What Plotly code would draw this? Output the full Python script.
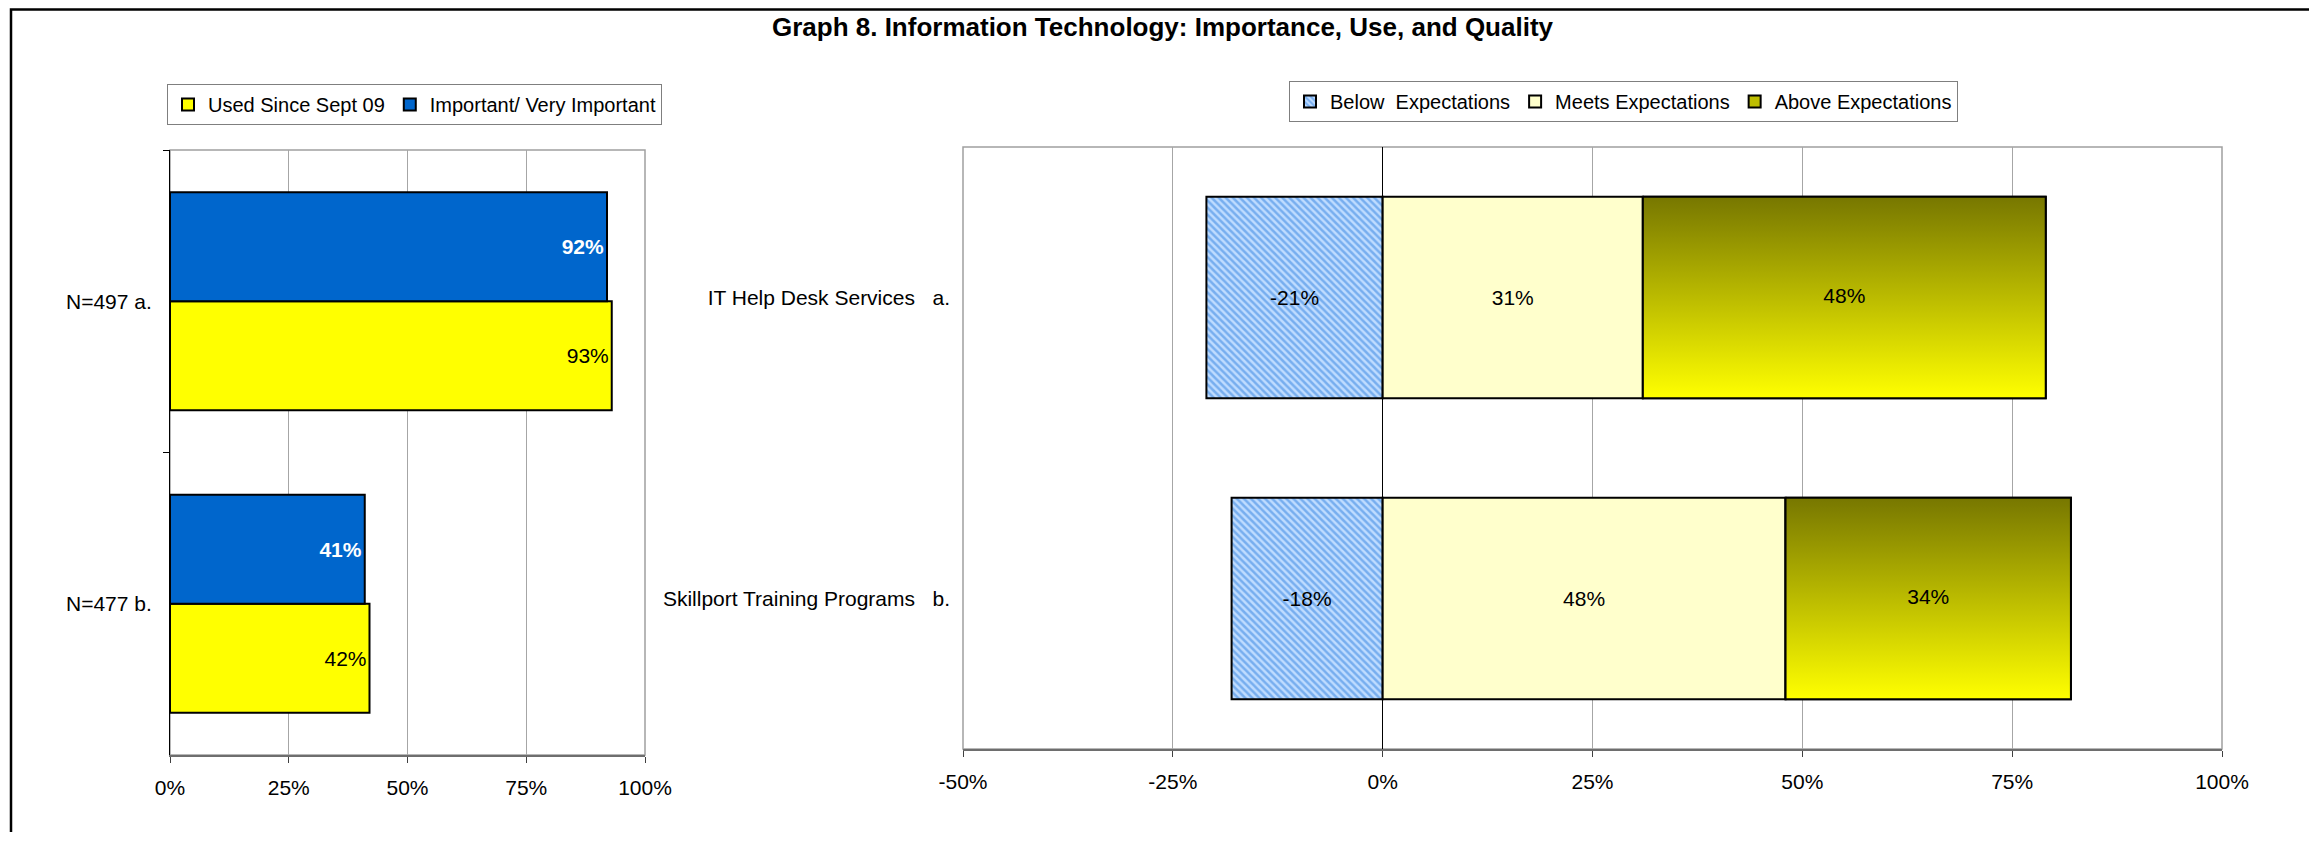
import plotly.graph_objects as go

# page body has an 8px margin, so the figure sits 8px in from the window corner
OFF = 8
W, H = 2317 - OFF, 845 - 2 * OFF - 5

# left chart: importance / use
left_cats = ["N=497 a.", "N=477 b."]
used_vals = [93, 42]
important_vals = [92, 41]

# right chart: quality ratings
right_cats = ["IT Help Desk Services\u00a0\u00a0\u00a0a.",
              "Skillport Training Programs\u00a0\u00a0\u00a0b."]
below_vals = [-21, -18]
meets_vals = [31, 48]
above_vals = [48, 34]

left_ticks = [0, 25, 50, 75, 100]
right_ticks = [-50, -25, 0, 25, 50, 75, 100]

FONT = "Liberation Sans, Arial, sans-serif"
GRID = "#A6A6A6"


def px_x(p):
    return (p - OFF) / W


def px_y(p):
    return 1 - (p - OFF) / H


def pct(vals):
    return [f"{v}%" for v in vals]


fig = go.Figure()

# ---- left: grouped bars ----
fig.add_trace(go.Bar(
    y=left_cats, x=used_vals, orientation="h", name="Used Since Sept 09",
    width=0.36, offset=0, marker=dict(color="#FFFF00", line=dict(color="black", width=2)),
    text=pct(used_vals), texttemplate="%{text}", textposition="inside",
    insidetextanchor="end", textfont=dict(color="black", size=21), constraintext="none",
    xaxis="x", yaxis="y", legend="legend", hoverinfo="skip"))
fig.add_trace(go.Bar(
    y=left_cats, x=important_vals, orientation="h", name="Important/ Very Important",
    width=0.36, offset=-0.36, marker=dict(color="#0066CC", line=dict(color="black", width=2)),
    text=pct(important_vals), texttemplate="<b>%{text}</b>", textposition="inside",
    insidetextanchor="end", textfont=dict(color="white", size=21), constraintext="none",
    xaxis="x", yaxis="y", legend="legend", hoverinfo="skip"))

# ---- right: diverging stacked bars ----
ypos = list(range(len(right_cats)))
hw = 0.335
fig.add_trace(go.Bar(
    y=ypos, x=below_vals, base=0, orientation="h", name="Below  Expectations",
    width=2 * hw, marker=dict(color="#99CCFF", line=dict(color="black", width=2),
                              pattern=dict(shape="\\", fgcolor="#2F80E0", bgcolor="#BFDCFF",
                                           size=5, solidity=0.5)),
    text=pct(below_vals), texttemplate="%{text}", textposition="inside",
    insidetextanchor="middle", textfont=dict(color="black", size=21), constraintext="none",
    xaxis="x2", yaxis="y2", legend="legend2", legendrank=1, hoverinfo="skip"))
fig.add_trace(go.Bar(
    y=ypos, x=meets_vals, base=0, orientation="h", name="Meets Expectations",
    width=2 * hw, marker=dict(color="#FFFFCC", line=dict(color="black", width=2)),
    text=pct(meets_vals), texttemplate="%{text}", textposition="inside",
    insidetextanchor="middle", textfont=dict(color="black", size=21), constraintext="none",
    xaxis="x2", yaxis="y2", legend="legend2", legendrank=2, hoverinfo="skip"))
fig.add_trace(go.Bar(
    y=ypos, x=above_vals, base=meets_vals, orientation="h", name="Above Expectations",
    width=2 * hw, marker=dict(color="#BDBD00", line=dict(color="black", width=2)),
    xaxis="x2", yaxis="y2", legend="legend2", legendrank=3, hoverinfo="skip"))

# gradient fill over the "above" segments (scatter layer sits above bars)
for i, (m, a) in enumerate(zip(meets_vals, above_vals)):
    fig.add_trace(go.Scatter(
        x=[m, m + a, m + a, m, m], y=[i - hw, i - hw, i + hw, i + hw, i - hw],
        mode="lines", fill="toself", line=dict(color="black", width=2),
        fillgradient=dict(type="vertical", colorscale=[[0, "#FFFF00"], [1, "#777700"]]),
        xaxis="x2", yaxis="y2", showlegend=False, hoverinfo="skip"))

fig.add_trace(go.Scatter(
    x=[m + a / 2 for m, a in zip(meets_vals, above_vals)], y=ypos,
    text=pct(above_vals), mode="text",
    textfont=dict(color="black", size=21, family=FONT),
    xaxis="x2", yaxis="y2", showlegend=False, hoverinfo="skip"))

# ---- layout ----
L_DOM_X = [px_x(170), px_x(645)]
L_DOM_Y = [px_y(755), px_y(150)]
R_DOM_X = [px_x(963), px_x(2222)]
R_DOM_Y = [px_y(749), px_y(147)]
R_RANGE = [right_ticks[0], right_ticks[-1]]
zero_pos = R_DOM_X[0] + (0 - R_RANGE[0]) / (R_RANGE[1] - R_RANGE[0]) * (R_DOM_X[1] - R_DOM_X[0])

tickfont = dict(size=21, color="black", family=FONT)

fig.update_layout(
    width=W, height=H, barmode="overlay",
    margin=dict(l=0, r=0, t=0, b=0, autoexpand=False),
    paper_bgcolor="white", plot_bgcolor="white",
    font=dict(family=FONT, size=21, color="black"),
    title=dict(text="<b>Graph 8. Information Technology: Importance, Use, and Quality</b>",
               x=0.5, xanchor="center", y=px_y(27), yanchor="middle", automargin=False,
               font=dict(size=26, color="black", family=FONT)),
    xaxis=dict(domain=L_DOM_X, anchor="y", range=[left_ticks[0], left_ticks[-1]],
               tickvals=left_ticks, ticktext=pct(left_ticks),
               showgrid=True, gridcolor=GRID, gridwidth=1, zeroline=False,
               showline=True, linecolor="#6E6E6E", linewidth=2,
               ticks="outside", ticklen=6, tickcolor="#404040", automargin=False,
               ticklabelstandoff=7, tickfont=tickfont, fixedrange=True),
    yaxis=dict(domain=L_DOM_Y, anchor="x", type="category", autorange="reversed",
               showgrid=False, showline=True, linecolor="black", linewidth=1,
               ticks="outside", ticklen=6, tickcolor="black", tickson="boundaries",
               automargin=False, ticklabelstandoff=13, tickfont=tickfont, fixedrange=True),
    xaxis2=dict(domain=R_DOM_X, anchor="y2", range=R_RANGE,
                tickvals=right_ticks, ticktext=pct(right_ticks),
                showgrid=True, gridcolor=GRID, gridwidth=1,
                zeroline=True, zerolinecolor="black", zerolinewidth=1,
                showline=True, linecolor="#6E6E6E", linewidth=2,
                ticks="outside", ticklen=6, tickcolor="#404040", automargin=False,
                ticklabelstandoff=7, tickfont=tickfont, fixedrange=True),
    yaxis2=dict(domain=R_DOM_Y, anchor="x2", range=[1.5, -0.5],
                tickvals=ypos, ticktext=right_cats,
                showgrid=False, zeroline=False, showline=False, ticks="",
                automargin=False, ticklabelstandoff=12, tickfont=tickfont, fixedrange=True),
    # category-axis tick at the zero line, between the two rows
    yaxis3=dict(overlaying="y2", anchor="free", position=zero_pos, side="left",
                range=[1.5, -0.5], tickvals=[0.5], ticks="outside", ticklen=6,
                tickcolor="black", showticklabels=False, showgrid=False,
                zeroline=False, showline=False, automargin=False, fixedrange=True),
    legend=dict(x=px_x(167), y=px_y(84), xanchor="left", yanchor="top",
                orientation="h", bgcolor="white", bordercolor="#7F7F7F", borderwidth=1,
                font=dict(size=20, color="black", family=FONT)),
    legend2=dict(x=px_x(1289), y=px_y(81), xanchor="left", yanchor="top",
                 orientation="h", bgcolor="white", bordercolor="#7F7F7F", borderwidth=1,
                 font=dict(size=20, color="black", family=FONT),
                 traceorder="normal"),
    shapes=[
        # plot-area frames
        dict(type="rect", xref="x domain", yref="y domain", x0=0, x1=1, y0=0, y1=1,
             line=dict(color="#A0A0A0", width=1.5), layer="below"),
        dict(type="rect", xref="x2 domain", yref="y2 domain", x0=0, x1=1, y0=0, y1=1,
             line=dict(color="#A0A0A0", width=1.5), layer="below"),
        # outer chart border (top edge kept just inside the figure)
        dict(type="rect", xref="paper", yref="paper", x0=px_x(11), x1=px_x(2314),
             y0=-0.05, y1=px_y(OFF + 1.5), line=dict(color="black", width=2.5)),
    ],
)

fig.write_html("out.html")
